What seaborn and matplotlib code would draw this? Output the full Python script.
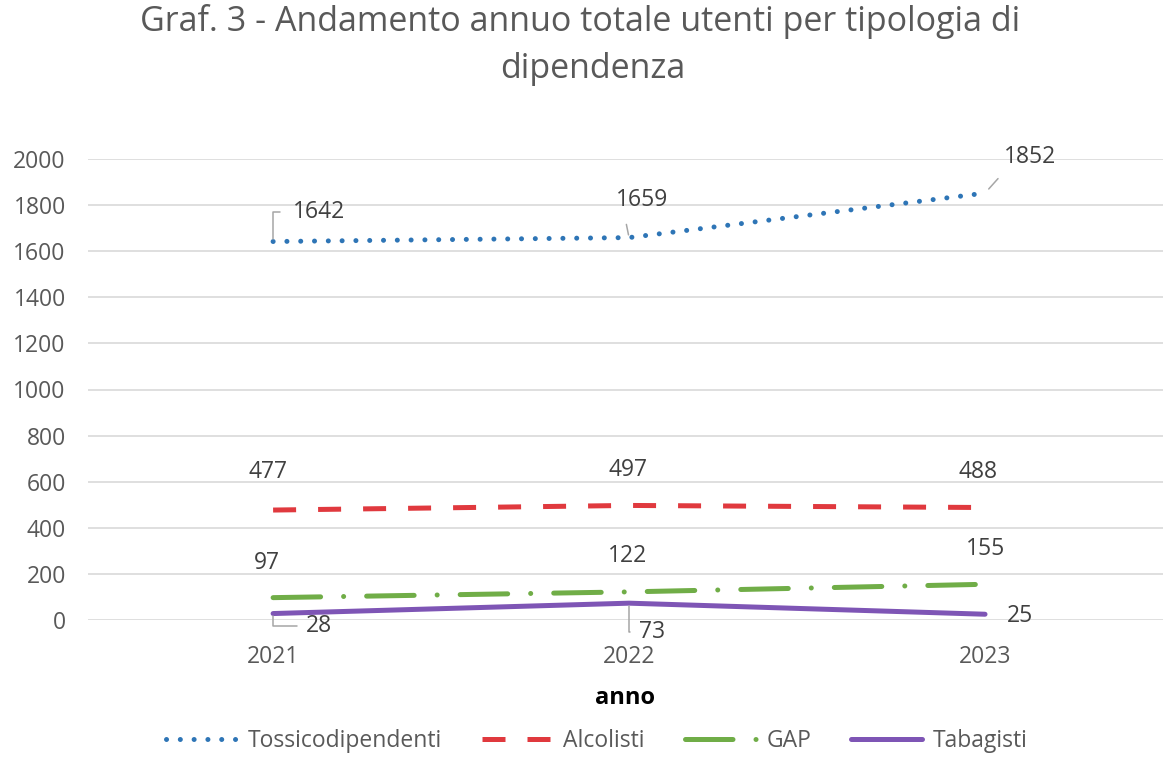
import matplotlib
matplotlib.use("Agg")
import matplotlib.pyplot as plt
import seaborn as sns
import pandas as pd

years = ["2021", "2022", "2023"]
tossico = [1642, 1659, 1852]
alcolisti = [477, 497, 488]
gap = [97, 122, 155]
tabagisti = [28, 73, 25]
series_names = ["Tossicodipendenti", "Alcolisti", "GAP", "Tabagisti"]
yticks = [0, 200, 400, 600, 800, 1000, 1200, 1400, 1600, 1800, 2000]

sns.set_theme(style="white")
plt.rcParams['font.family'] = ['Open Sans', 'DejaVu Sans']

fig = plt.figure(figsize=(11.74, 7.65), dpi=100)
ax = fig.add_axes([88/1174, 1-620/765, (1163-88)/1174, (620-159)/765])

colors = ["#2E75B6", "#E0393E", "#70AD47", "#7E55B5"]
lw = 3.6
styles = [
    dict(ls=(0, (0.01, 2.75)), cap="round"),
    dict(ls=(0, (4.6, 4.4)), cap="butt"),
    dict(ls=(0, (9.5, 4.6, 0.01, 4.6)), cap="round"),
    dict(ls="-", cap="round"),
]
values = [tossico, alcolisti, gap, tabagisti]

handles = []
for name, vals, col, st in zip(series_names, values, colors, styles):
    df = pd.DataFrame({"anno": years, "v": vals})
    sns.lineplot(data=df, x="anno", y="v", ax=ax, color=col, lw=lw, sort=False, legend=False)
    ln = ax.lines[-1]
    ln.set_linestyle(st["ls"])
    ln.set_dash_capstyle(st["cap"])
    ln.set_solid_capstyle("round")
    ln.set_label(name)
    handles.append(ln)

ax.set_xlim(-0.52, 2.5)
ax.set_ylim(0, 2000)
ax.set_yticks(yticks)
ax.yaxis.grid(True, color="#D9D9D9", lw=1.2)
ax.set_axisbelow(True)
for s in ax.spines.values():
    s.set_visible(False)
ax.tick_params(axis="both", length=0, labelsize=16.5, labelcolor="#595959")
ax.tick_params(axis="y", pad=16)
ax.tick_params(axis="x", pad=18)
ax.set_ylabel("")
ax.set_xlabel("anno", fontsize=17, fontweight="bold", color="#000000", labelpad=12)

lab_col = "#404040"
lead = dict(arrowstyle="-", color="#A6A6A6", lw=1.1)

def lab(x, y, txt, dx, dy, arrow=None):
    kw = {}
    if arrow is not None:
        kw["arrowprops"] = arrow
    ax.annotate(txt, xy=(x, y), xytext=(dx, dy), textcoords="offset pixels",
                ha="center", va="center", fontsize=16.5, color=lab_col, **kw)

# Tossicodipendenti
lab(0, tossico[0], str(tossico[0]), 46, 30,
    dict(lead, connectionstyle="angle,angleA=0,angleB=90,rad=0", relpos=(0, 0.5), shrinkA=7, shrinkB=2))
lab(1, tossico[1], str(tossico[1]), 13, 38,
    dict(lead, relpos=(0.15, 0), shrinkA=7, shrinkB=2))
lab(2, tossico[2], str(tossico[2]), 45, 36,
    dict(lead, relpos=(0.05, 0), shrinkA=6, shrinkB=4))
# Alcolisti
for i, d in enumerate([(-5, 38), (-1, 35), (-7, 36)]):
    lab(i, alcolisti[i], str(alcolisti[i]), *d)
# GAP
for i, d in enumerate([(-6, 35), (-2, 36), (1, 35)]):
    lab(i, gap[i], str(gap[i]), *d)
# Tabagisti
lab(0, tabagisti[0], str(tabagisti[0]), 46, -12,
    dict(lead, connectionstyle="angle,angleA=0,angleB=90,rad=0", relpos=(0, 0.5), shrinkA=4, shrinkB=2))
lab(1, tabagisti[1], str(tabagisti[1]), 23, -29,
    dict(lead, connectionstyle="angle,angleA=0,angleB=90,rad=0", relpos=(0, 0.5), shrinkA=4, shrinkB=2))
lab(2, tabagisti[2], str(tabagisti[2]), 35, -2)

fig.text(580/1174, 1-31/765, "Graf. 3 - Andamento annuo totale utenti per tipologia di",
         ha="center", va="baseline", fontsize=24.5, color="#595959")
fig.text(593/1174, 1-78/765, "dipendenza", ha="center", va="baseline", fontsize=24.5, color="#595959")

leg = fig.legend(handles=handles, loc="center", bbox_to_anchor=(597/1174, 1-741/765),
                 ncol=4, frameon=False, fontsize=16.5, handlelength=3.1, columnspacing=1.75,
                 handletextpad=0.45)
for t in leg.get_texts():
    t.set_color("#595959")

fig.savefig("out.png", dpi=100)
